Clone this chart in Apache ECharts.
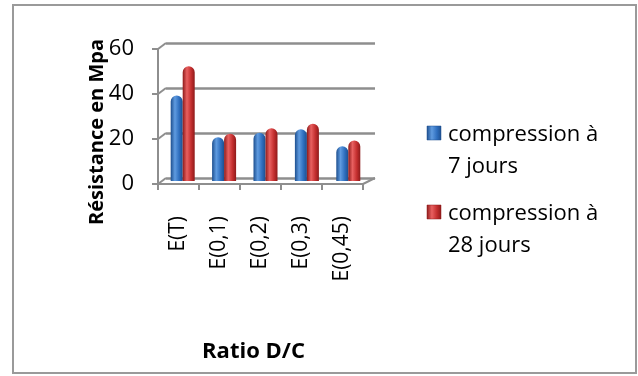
<!DOCTYPE html>
<html>
<head>
<meta charset="utf-8">
<script src="https://cdn.jsdelivr.net/npm/echarts@6/dist/echarts.min.js"></script>
<style>
  html, body { margin: 0; padding: 0; background: #fff; }
  #chart-container { width: 638px; height: 376px; }
</style>
</head>
<body>
<div id="chart-container"></div>
<script>
var categories = ['E(T)', 'E(0,1)', 'E(0,2)', 'E(0,3)', 'E(0,45)'];
var seriesNames = ['compression à 7 jours', 'compression à 28 jours'];
var legendLines = [['compression à', '7 jours'], ['compression à', '28 jours']];
var compression7 = [38, 19.5, 21.5, 23, 15.5];
var compression28 = [51, 21, 23.5, 25.5, 18];
var yTicks = [0, 20, 40, 60];

var font = '"Open Sans", sans-serif';
var gridGray = '#8e8e8e';

var chartDom = document.getElementById('chart-container');
var myChart = echarts.init(chartDom);

function cylinder(dark, mid, light) {
  return new echarts.graphic.LinearGradient(0, 0, 1, 0, [
    { offset: 0, color: dark },
    { offset: 0.35, color: light },
    { offset: 0.7, color: mid },
    { offset: 1, color: dark }
  ]);
}

var option = {
  animation: false,
  textStyle: { fontFamily: font },
  grid: [
    // back wall
    { left: 166, right: 263, top: 43, bottom: 198 },
    // front axes
    { left: 158, right: 275, top: 49, bottom: 192 },
    // bars (mid depth)
    { left: 162, right: 269, top: 46, bottom: 195 }
  ],
  xAxis: [
    { type: 'category', gridIndex: 0, data: categories, show: false },
    {
      type: 'category', gridIndex: 1, data: categories,
      axisLine: { show: true, lineStyle: { color: gridGray, width: 2 } },
      axisTick: { show: true, length: 6, lineStyle: { color: gridGray, width: 2 } },
      axisLabel: { rotate: 90, margin: 32, fontSize: 21, color: '#000', fontFamily: font },
      name: 'Ratio D/C', nameLocation: 'middle', nameGap: 157,
      nameTextStyle: { fontSize: 22, fontWeight: 'bold', color: '#000', fontFamily: font, padding: [0, 14, 0, 0] }
    },
    { type: 'category', gridIndex: 2, data: categories, show: false }
  ],
  yAxis: [
    {
      type: 'value', gridIndex: 0, min: 0, max: 60, interval: 20,
      axisLine: { show: false }, axisTick: { show: false }, axisLabel: { show: false },
      splitLine: { show: true, lineStyle: { color: gridGray, width: 2.5 } }
    },
    {
      type: 'value', gridIndex: 1, min: 0, max: 60, interval: 20,
      axisLine: { show: true, lineStyle: { color: gridGray, width: 2 } },
      axisTick: { show: true, length: 6, lineStyle: { color: gridGray, width: 2 } },
      axisLabel: { fontSize: 22, color: '#000', margin: 24, fontFamily: font,
        formatter: function (v) { return yTicks.indexOf(v) >= 0 ? String(v) : ''; } },
      splitLine: { show: false }
    },
    { type: 'value', gridIndex: 2, min: 0, max: 60, interval: 20, show: false, splitLine: { show: false } }
  ],
  series: [
    {
      name: seriesNames[0], type: 'bar', xAxisIndex: 2, yAxisIndex: 2,
      data: compression7, barWidth: 12, barGap: '0%',
      itemStyle: { color: cylinder('#1d4f8f', '#2f6fbf', '#5f9be0'), borderRadius: [6, 6, 0, 0] }
    },
    {
      name: seriesNames[1], type: 'bar', xAxisIndex: 2, yAxisIndex: 2,
      data: compression28, barWidth: 12, barGap: '0%',
      itemStyle: { color: cylinder('#8e1a1a', '#c42f2f', '#e86060'), borderRadius: [6, 6, 0, 0] }
    }
  ],
  graphic: []
};

myChart.setOption(option);

// decorations: border, 3D diagonals, y title, legend
var g = [];
g.push({ type: 'rect', shape: { x: 13, y: 5, width: 623, height: 368 },
  style: { fill: 'none', stroke: '#9a9a9a', lineWidth: 2 }, silent: true });

yTicks.forEach(function (v) {
  var front = myChart.convertToPixel({ gridIndex: 1 }, [0, v]);
  var back = myChart.convertToPixel({ gridIndex: 0 }, [0, v]);
  g.push({ type: 'line', shape: { x1: 158, y1: front[1], x2: 166, y2: back[1] },
    style: { stroke: gridGray, lineWidth: 2 }, silent: true });
});
var fr = myChart.convertToPixel({ gridIndex: 1 }, [4, 0]);
var br = myChart.convertToPixel({ gridIndex: 0 }, [4, 0]);
g.push({ type: 'line', shape: { x1: 363, y1: fr[1], x2: 375, y2: br[1] },
  style: { stroke: gridGray, lineWidth: 2 }, silent: true });

g.push({ type: 'text', x: 97, y: 132, rotation: Math.PI / 2,
  style: { text: 'Résistance en Mpa', fontSize: 20, fontWeight: 'bold', fontFamily: font,
    fill: '#000', align: 'center', verticalAlign: 'middle' } });

var legendColors = [
  cylinder('#1d4f8f', '#2f6fbf', '#5f9be0'),
  cylinder('#8e1a1a', '#c42f2f', '#e86060')
];
var legendTop = [135, 214];
legendLines.forEach(function (lines, i) {
  g.push({ type: 'rect', shape: { x: 427, y: legendTop[i] - 9, width: 14, height: 14 },
    style: { fill: legendColors[i], stroke: i ? '#8e1a1a' : '#1d4f8f', lineWidth: 0.5 } });
  lines.forEach(function (t, j) {
    g.push({ type: 'text', x: 448, y: legendTop[i] + j * 32,
      style: { text: t, fontSize: 22, fontFamily: font, fill: '#000', verticalAlign: 'middle' } });
  });
});

myChart.setOption({ graphic: g });
</script>
</body>
</html>
